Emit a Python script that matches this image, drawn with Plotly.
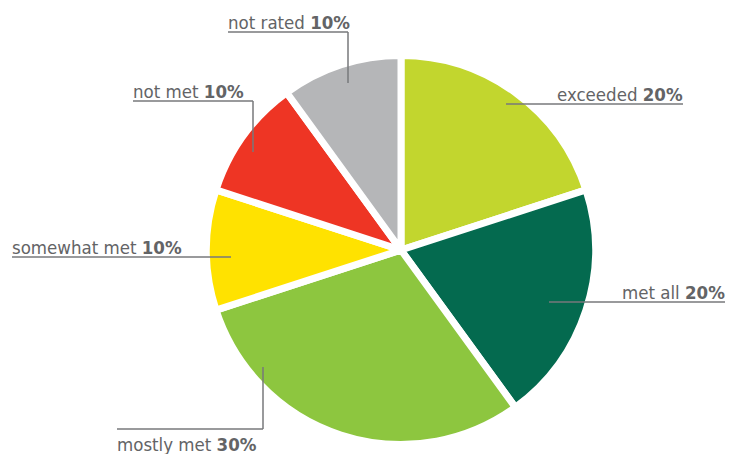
import plotly.graph_objects as go

# Rating categories, shares (percent) and slice colours
categories = ["exceeded", "met all", "mostly met", "somewhat met", "not met", "not rated"]
shares = [20, 20, 30, 10, 10, 10]
colors = ["#C2D62E", "#046A4F", "#8DC63F", "#FFE200", "#EE3524", "#B5B6B8"]

W, H = 734, 454


def px(x, y):
    """Pixel position -> paper coordinates."""
    return x / W, 1 - y / H


# Pie geometry in pixels
cx, cy, r = 401, 250, 194.5
x0, y1 = px(cx - r, cy - r)
x1, y0 = px(cx + r, cy + r)

fig = go.Figure(
    go.Pie(
        labels=categories,
        values=shares,
        sort=False,
        direction="clockwise",
        rotation=0,
        marker=dict(colors=colors, line=dict(color="white", width=7)),
        textinfo="none",
        hoverinfo="label+percent",
        showlegend=False,
        domain=dict(x=[x0, x1], y=[y0, y1]),
    )
)

FONT = "DejaVu Sans Condensed, Roboto, Arial, sans-serif"
TEXT_COLOR = "#636466"
LINE_COLOR = "#77787B"

# Leader lines (pixel polylines) and where each label sits
leaders = [
    dict(path=[(506, 104), (683, 104)], text_at=(684, 106), xa="right", ya="bottom"),
    dict(path=[(549, 302), (725, 302)], text_at=(726, 304), xa="right", ya="bottom"),
    dict(path=[(263, 367), (263, 429), (117, 429)], text_at=(116, 433), xa="left", ya="top"),
    dict(path=[(231, 257), (12, 257)], text_at=(11, 259), xa="left", ya="bottom"),
    dict(path=[(253, 152), (253, 101), (133, 101)], text_at=(132, 103), xa="left", ya="bottom"),
    dict(path=[(348, 83), (348, 32), (228, 32)], text_at=(227, 34), xa="left", ya="bottom"),
]

shapes = []
annotations = []
for cat, val, ld in zip(categories, shares, leaders):
    pts = ld["path"]
    for (ax, ay), (bx, by) in zip(pts[:-1], pts[1:]):
        p0 = px(ax, ay)
        p1 = px(bx, by)
        shapes.append(dict(type="line", xref="paper", yref="paper",
                           x0=p0[0], y0=p0[1], x1=p1[0], y1=p1[1],
                           line=dict(color=LINE_COLOR, width=1.5)))
    tx, ty = px(*ld["text_at"])
    annotations.append(dict(
        xref="paper", yref="paper", x=tx, y=ty,
        xanchor=ld["xa"], yanchor=ld["ya"],
        text=f"{cat} <b>{val}%</b>",
        showarrow=False,
        font=dict(family=FONT, size=18.5, color=TEXT_COLOR),
        borderpad=0,
    ))

fig.update_layout(
    width=W, height=H,
    margin=dict(l=0, r=0, t=0, b=0),
    paper_bgcolor="white",
    plot_bgcolor="white",
    shapes=shapes,
    annotations=annotations,
)

fig.write_html("out.html")
